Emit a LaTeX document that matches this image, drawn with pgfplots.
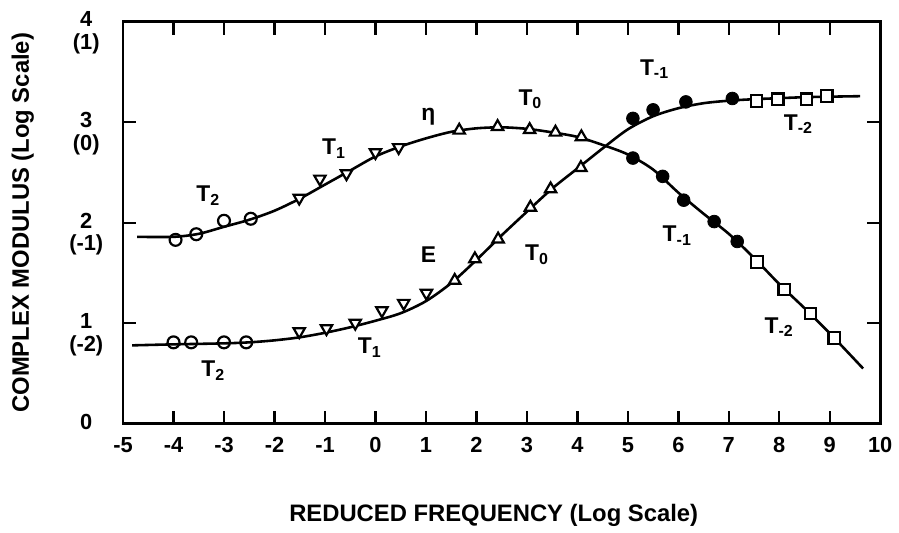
\documentclass[border=0pt]{standalone}
\usepackage{fontspec}
\setmainfont{Liberation Sans}
\usepackage{pgfplots}
\pgfplotsset{compat=1.18}

\newcommand{\lbl}{\bfseries\fontsize{11.5}{13}\selectfont}

\begin{document}
\begin{tikzpicture}
\begin{axis}[
  scale only axis,
  width=381.5pt, height=202.5pt,
  xmin=-5, xmax=10, ymin=0, ymax=4,
  axis line style={line width=1.4pt},
  tick align=inside,
  major tick length=6.5pt,
  tick style={line width=1.2pt, black},
  xtick={-5,-4,-3,-2,-1,0,1,2,3,4,5,6,7,8,9,10},
  xticklabels={-5,-4,-3,-2,-1,0,1,2,3,4,5,6,7,8,9,10},
  ytick={0,1,2,3,4},
  yticklabels={0,{1\\(-2)},{2\\(-1)},{3\\(0)},{4\\(1)}},
  xticklabel style={font=\bfseries\fontsize{11}{12}\selectfont, yshift=-3.5pt},
  yticklabel style={font=\bfseries\fontsize{11}{11.5}\selectfont, align=center,
    text width=2.2em, anchor=north east, yshift=8.5pt, xshift=-4pt},
  xlabel={REDUCED FREQUENCY (Log Scale)},
  ylabel={COMPLEX MODULUS (Log Scale)},
  label style={font=\bfseries\fontsize{12}{14}\selectfont},
  xlabel style={at={(axis description cs:0.5,0)}, anchor=center, yshift=-46pt, xshift=-4pt},
  ylabel style={at={(axis description cs:0,0.5)}, anchor=center, yshift=50.5pt},
  clip=false,
]
% loss-related curve (eta): rises, peaks near 2.5, then falls
\addplot[black, line width=1.3pt, smooth, tension=0.5] coordinates {
  (-4.72,1.86) (-4,1.86) (-3.5,1.89) (-3,1.96) (-2.5,2.03) (-2,2.12)
  (-1.5,2.24) (-1,2.38) (-0.5,2.52) (0,2.66) (0.5,2.76) (1,2.84)
  (1.5,2.905) (2,2.94) (2.5,2.95) (3,2.935) (3.5,2.90) (4,2.855)
  (4.5,2.775) (5,2.68) (5.5,2.53) (6,2.30) (6.5,2.09) (7,1.89)
  (7.5,1.65) (8,1.39) (8.5,1.15) (9,0.90) (9.66,0.55)
};
% storage curve (E): low plateau, rise, high plateau
\addplot[black, line width=1.3pt, smooth, tension=0.5] coordinates {
  (-4.82,0.78) (-4,0.79) (-3,0.80) (-2.5,0.81) (-2,0.83) (-1.5,0.86)
  (-1,0.905) (-0.5,0.96) (0,1.025) (0.5,1.10) (1,1.22) (1.5,1.40)
  (2,1.63) (2.5,1.875) (3,2.11) (3.5,2.34) (4,2.54) (4.5,2.74)
  (5,2.93) (5.5,3.06) (6,3.14) (6.5,3.19) (7,3.215) (7.5,3.23)
  (8,3.24) (8.5,3.25) (9,3.255) (9.6,3.26)
};

% T2 : open circles
\addplot[only marks, mark=o, mark size=3pt, mark options={line width=1.1pt, fill=white, draw=black}] coordinates {
  (-3.96,1.83) (-3.55,1.886) (-3.0,2.02) (-2.47,2.04)
  (-4.0,0.81) (-3.65,0.81) (-3.0,0.81) (-2.56,0.81)
};
% T1 : open down triangles
\addplot[only marks, mark=triangle*, mark size=3.3pt, mark options={rotate=180, line width=1.1pt, fill=white, draw=black}] coordinates {
  (-1.51,2.247) (-1.10,2.437) (-0.574,2.49) (0,2.70) (0.46,2.75)
  (-1.51,0.918) (-0.97,0.948) (-0.40,1.002) (0.128,1.126) (0.56,1.20) (1.01,1.30)
};
% T0 : open up triangles
\addplot[only marks, mark=triangle*, mark size=3.3pt, mark options={line width=1.1pt, fill=white, draw=black}] coordinates {
  (1.66,2.92) (2.42,2.956) (3.055,2.926) (3.566,2.90) (4.08,2.854)
  (1.57,1.425) (1.97,1.64) (2.43,1.837) (3.07,2.153) (3.47,2.336) (4.07,2.548)
};
% T-1 : filled circles
\addplot[only marks, mark=*, mark size=3.2pt, mark options={fill=black, draw=black}] coordinates {
  (5.10,2.644) (5.69,2.462) (6.106,2.225) (6.71,2.012) (7.167,1.814)
  (5.10,3.039) (5.50,3.124) (6.15,3.203) (7.07,3.237)
};
% T-2 : open squares
\addplot[only marks, mark=square*, mark size=2.9pt, mark options={line width=1.1pt, fill=white, draw=black}] coordinates {
  (7.56,1.61) (8.10,1.336) (8.62,1.096) (9.09,0.852)
  (7.55,3.213) (7.97,3.23) (8.54,3.23) (8.94,3.262)
};

% curve and temperature annotations
\node[font=\lbl] at (axis cs:-3.31,2.27) {T\textsubscript{2}};
\node[font=\lbl] at (axis cs:-0.82,2.74) {T\textsubscript{1}};
\node[font=\lbl] at (axis cs:1.05,3.06) {η};
\node[font=\lbl] at (axis cs:3.07,3.23) {T\textsubscript{0}};
\node[font=\lbl] at (axis cs:5.53,3.53) {T\textsubscript{-1}};
\node[font=\lbl] at (axis cs:8.38,2.98) {T\textsubscript{-2}};
\node[font=\lbl] at (axis cs:1.05,1.68) {E};
\node[font=\lbl] at (axis cs:3.2,1.68) {T\textsubscript{0}};
\node[font=\lbl] at (axis cs:5.98,1.87) {T\textsubscript{-1}};
\node[font=\lbl] at (axis cs:8.0,0.96) {T\textsubscript{-2}};
\node[font=\lbl] at (axis cs:-3.21,0.53) {T\textsubscript{2}};
\node[font=\lbl] at (axis cs:-0.11,0.76) {T\textsubscript{1}};
\end{axis}
\path ([xshift=-62pt,yshift=-55pt]current axis.south west) rectangle ([xshift=6pt,yshift=11pt]current axis.north east);
\end{tikzpicture}
\end{document}
